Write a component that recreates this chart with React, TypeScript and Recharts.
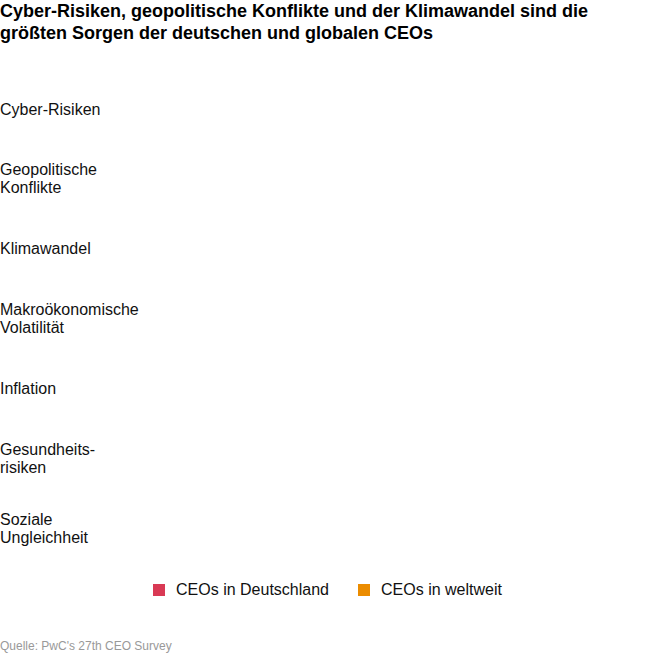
import React from "react";
import { BarChart, Bar, XAxis, YAxis } from "recharts";

const categories = [
  "Cyber-Risiken",
  "Geopolitische\nKonflikte",
  "Klimawandel",
  "Makroökonomische\nVolatilität",
  "Inflation",
  "Gesundheits-\nrisiken",
  "Soziale\nUngleichheit",
];
// Bars are not drawn in the reference (zero length)
const deutschland = [0, 0, 0, 0, 0, 0, 0];
const weltweit = [0, 0, 0, 0, 0, 0, 0];

const seriesNames = ["CEOs in Deutschland", "CEOs in weltweit"];
const seriesColors = ["#d93954", "#eb8c00"];

const data = categories.map((c, i) => ({
  name: c,
  de: deutschland[i],
  ww: weltweit[i],
}));

const FONT = "'Liberation Sans', Arial, Helvetica, sans-serif";

const Tick = (props: any) => {
  const { y, payload } = props;
  const lines: string[] = String(payload.value).split("\n");
  const lh = 18;
  const start = -((lines.length - 1) * lh) / 2;
  return (
    <text x={0} y={y} textAnchor="start" fontSize={16} fill="#111" fontFamily={FONT}>
      {lines.map((l, i) => (
        <tspan key={i} x={0} y={y + start + i * lh} dy="0.35em">
          {l}
        </tspan>
      ))}
    </text>
  );
};

export default function App() {
  return (
    <div
      style={{
        position: "absolute",
        left: 0,
        top: 0,
        width: 655,
        height: 653,
        background: "#fff",
        fontFamily: FONT,
        overflow: "hidden",
      }}
    >
      <div
        style={{
          position: "absolute",
          left: 0,
          top: 0,
          fontSize: 18,
          fontWeight: "bold",
          lineHeight: "22px",
          color: "#000",
          width: 655,
          whiteSpace: "nowrap",
        }}
      >
        Cyber-Risiken, geopolitische Konflikte und der Klimawandel sind die
        <br />
        größten Sorgen der deutschen und globalen CEOs
      </div>
      <div style={{ position: "absolute", left: 0, top: 0 }}>
        <BarChart
          width={655}
          height={570}
          data={data}
          layout="vertical"
          margin={{ top: 74, right: 20, bottom: 7, left: 0 }}
          barGap={2}
        >
          <XAxis type="number" domain={[0, 100]} hide />
          <YAxis
            type="category"
            dataKey="name"
            width={160}
            axisLine={false}
            tickLine={false}
            tick={<Tick />}
            interval={0}
          />
          <Bar dataKey="de" name={seriesNames[0]} fill={seriesColors[0]} isAnimationActive={false} />
          <Bar dataKey="ww" name={seriesNames[1]} fill={seriesColors[1]} isAnimationActive={false} />
        </BarChart>
      </div>
      <div
        style={{
          position: "absolute",
          left: 0,
          top: 580,
          width: 655,
          display: "flex",
          justifyContent: "center",
          gap: 29,
          fontSize: 16,
          color: "#111",
          lineHeight: "20px",
        }}
      >
        {seriesNames.map((n, i) => (
          <div key={n} style={{ display: "flex", alignItems: "center" }}>
            <span
              style={{
                display: "inline-block",
                width: 12,
                height: 12,
                background: seriesColors[i],
                marginRight: 11,
              }}
            />
            <span>{n}</span>
          </div>
        ))}
      </div>
      <div
        style={{
          position: "absolute",
          left: 0,
          top: 638,
          fontSize: 12,
          color: "#999",
          lineHeight: "16px",
        }}
      >
        Quelle: PwC's 27th CEO Survey
      </div>
    </div>
  );
}
